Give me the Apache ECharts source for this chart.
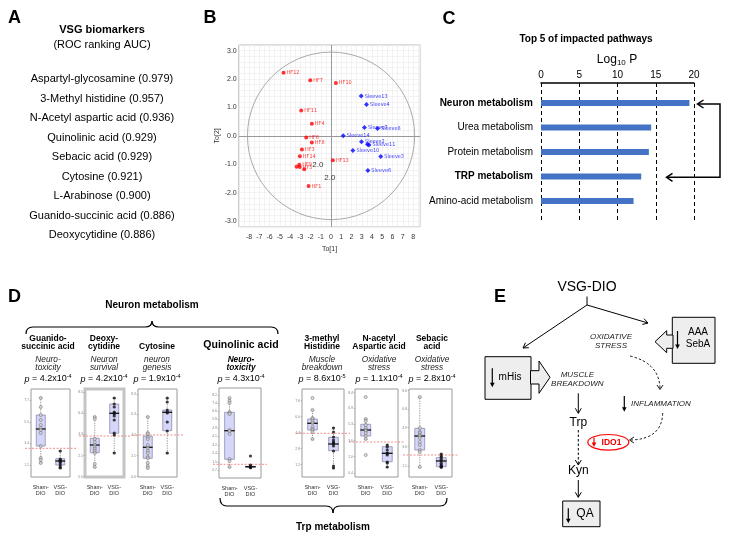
<!DOCTYPE html>
<html><head><meta charset="utf-8">
<script src="https://cdn.jsdelivr.net/npm/echarts@6/dist/echarts.min.js"></script>
<style>html,body{margin:0;padding:0;background:#fff}#c{width:734px;height:542px}</style>
</head><body><div id="c"></div>
<script>
const FONT = 'Liberation Sans, Arial, Helvetica, sans-serif';
const NARROW = 'Liberation Sans Narrow, DejaVu Sans Condensed, Liberation Sans, sans-serif';

// ---------- Panel A data ----------
const biomarkers = ['Aspartyl-glycosamine','3-Methyl histidine','N-Acetyl aspartic acid','Quinolinic acid','Sebacic acid','Cytosine','L-Arabinose','Guanido-succinic acid','Deoxycytidine'];
const biomarkerAUC = [0.979,0.957,0.936,0.929,0.929,0.921,0.900,0.886,0.886];

// ---------- Panel B data ----------
const hfNames = ['HF12','HF7','HF10','HF11','HF4','HF6','HF8','HF3','HF14','HF13','HF9','HF5','HF2','HF15','HF1'];
const hfX = [-4.63,-2.03,0.47,-2.91,-1.87,-2.42,-1.87,-2.84,-3.04,0.18,-3.10,-3.05,-3.36,-2.61,-2.19];
const hfY = [2.22,1.96,1.86,0.89,0.43,-0.06,-0.23,-0.48,-0.72,-0.86,-1.02,-1.10,-1.09,-1.18,-1.77];
const slNames = ['Sleeve13','Sleeve4','Sleeve7','Sleeve8','Sleeve14','Sleeve2','Sleeve9','Sleeve11','Sleeve10','Sleeve3','Sleeve6'];
const slX = [2.94,3.46,3.26,4.53,1.19,2.97,3.55,3.70,2.13,4.85,3.59];
const slY = [1.40,1.10,0.29,0.26,0.00,-0.21,-0.30,-0.32,-0.52,-0.73,-1.22];
const hiddenLabels = ['HF2','HF15','Sleeve9'];
const ellipseRadii = [8.15, 2.95];
const ellipseLabelX = [-1.28, -0.11];
const ellipseLabelY = [-1.03, -1.48];
const ellipseLabelText = ['2.0', '2.0'];

// ---------- Panel C data ----------
const pathways = ['Neuron metabolism','Urea metabolism','Protein metabolism','TRP metabolism','Amino-acid metabolism'];
const log10P = [19.4,14.4,14.1,13.1,12.1];
const boldPathways = ['Neuron metabolism','TRP metabolism'];

// ---------- Panel D data ----------
const groups = ['Sham-\nDIO','VSG-\nDIO'];
const metabolites = ['Guanido-\nsuccinic acid','Deoxy-\ncytidine','Cytosine','Quinolinic acid','3-methyl\nHistidine','N-acetyl\nAspartic acid','Sebacic\nacid'];
const roles = ['Neuro-\ntoxicity','Neuron\nsurvival','neuron\ngenesis','Neuro-\ntoxicity','Muscle\nbreakdown','Oxidative\nstress','Oxidative\nstress'];
const pMantissa = ['4.2','4.2','1.9','4.3','8.6','1.1','2.8'];
const pExponent = ['-4','-4','-4','-4','-5','-4','-4'];
// [min, Q1, median, Q3, max]
const shamBoxes = [
 [1.43,3.10,4.80,6.20,7.93],
 [0.97,2.43,3.20,3.87,6.03],
 [0.87,1.87,2.97,4.10,6.03],
 [0.97,1.77,4.63,6.47,7.87],
 [3.77,4.70,5.37,5.80,6.70],
 [3.77,4.10,4.70,5.27,5.80],
 [0.97,2.70,4.10,4.87,7.97]];
const vsgBoxes = [
 [0.90,1.20,1.60,1.83,2.60],
 [2.43,4.37,6.37,7.30,7.87],
 [2.37,4.63,6.47,6.70,7.87],
 [0.93,0.97,1.03,1.07,1.17],
 [0.87,2.63,3.30,3.97,4.93],
 [0.97,1.53,2.37,3.03,3.20],
 [0.97,1.03,1.60,1.93,2.30]];
const shamPoints = [
 [7.9,7.0,6.2,5.7,5.2,4.9,4.7,4.4,3.1,1.9,1.7,1.4],
 [6.0,5.8,3.8,3.5,3.2,3.0,2.8,2.6,2.4,1.3,1.0],
 [6.0,4.4,4.3,4.0,3.8,3.2,2.9,2.6,2.4,2.0,1.9,1.4,1.1,0.9],
 [7.9,7.6,7.4,6.5,6.4,6.3,4.7,4.6,4.3,1.8,1.6,1.0],
 [7.9,6.7,5.9,5.8,5.6,5.4,5.0,4.8,4.7,4.5,3.8],
 [8.0,5.8,5.6,5.2,4.9,4.7,4.6,4.4,4.1,3.8,2.2],
 [8.0,4.9,4.5,4.4,4.2,4.1,3.9,3.5,3.2,2.7,2.5,1.0]];
const vsgPoints = [
 [2.6,1.8,1.7,1.63,1.53,1.4,1.2,1.0,0.9],
 [7.9,7.3,7.0,6.5,6.4,6.3,6.1,5.7,4.4,4.2,2.4],
 [7.9,7.5,6.7,6.5,6.4,5.5,4.6,2.4],
 [2.1,1.2,1.05,1.0,0.97,0.93],
 [4.9,4.5,4.0,3.7,3.5,3.4,3.3,3.1,2.6,1.1,0.9],
 [3.2,3.0,2.7,2.4,2.37,2.2,1.5,1.4,1.0],
 [2.3,2.1,1.97,1.77,1.6,1.37,1.2,1.1,1.03,0.97]];
const refLines = [2.87,4.1,4.2,1.27,4.37,3.5,2.2];
const yTicks = [
 [1.2,3.37,5.47,7.7],
 [0.03,2.13,4.27,6.37,8.47],
 [0.03,2.13,4.2,6.27,8.27],
 [0.7,1.5,2.4,3.2,4.1,4.9,5.8,6.6,7.4,8.2],
 [1.23,2.83,4.43,6.03,7.63],
 [0.37,2.03,3.63,5.27,6.87,8.43],
 [1.1,3.03,4.93,6.77,8.63]];
const yMin = [0,0,0,-0.1,0,0,0];
const yMax = [8.8,8.8,8.8,8.9,8.8,8.8,8.8];

// ---------- layout (pixels) ----------
const dLeft = [31,85,138,219,302,355,409];
const dWidth = [39,39,39,42,42,43,43];
const dTop = [389,389,389,388,389,389,389];
const dHeight = [88,88,88,90,88,88,88];
const dHeadX = [48,104,157,241,322,379,432];

const graphics = [];
function txt(text, x, y, opt) {
  graphics.push({type:'text', silent:true, z:50, style:Object.assign({text:text, x:x, y:y, fill:'#000', textAlign:'center', textVerticalAlign:'middle', fontFamily:FONT, fontSize:10}, opt||{})});
}
function line(x1,y1,x2,y2,opt){
  graphics.push({type:'line', silent:true, z:50, shape:{x1:x1,y1:y1,x2:x2,y2:y2}, style:Object.assign({stroke:'#000', lineWidth:1}, opt||{})});
}
function qcurve(x1,y1,cx,cy,x2,y2,opt){
  graphics.push({type:'bezierCurve', silent:true, z:50, shape:{x1:x1,y1:y1,x2:x2,y2:y2,cpx1:cx,cpy1:cy}, style:Object.assign({stroke:'#000', lineWidth:1, fill:null}, opt||{})});
}
function head(x,y,dx,dy,len,w,opt){
  const L=Math.hypot(dx,dy); dx/=L; dy/=L;
  const bx=x-dx*len, by=y-dy*len;
  graphics.push({type:'polyline', silent:true, z:50, shape:{points:[[bx-dy*w,by+dx*w],[x,y],[bx+dy*w,by-dx*w]]}, style:Object.assign({stroke:'#000', lineWidth:1, fill:null}, opt||{}, {lineDash:null})});
}
function arrow(x1,y1,x2,y2,opt){ line(x1,y1,x2,y2,opt); head(x2,y2,x2-x1,y2-y1,5,3,opt); }
function downArrow(x,y1,y2,color){
  line(x,y1,x,y2-3,{stroke:color,lineWidth:1.2});
  graphics.push({type:'polygon', silent:true, z:50, shape:{points:[[x-2.3,y2-4.5],[x+2.3,y2-4.5],[x,y2]]}, style:{fill:color}});
}
function rect(x,y,w,h,opt){
  graphics.push({type:'rect', silent:true, z:45, shape:{x:x,y:y,width:w,height:h}, style:Object.assign({fill:'#eeeeee', stroke:'#000', lineWidth:1}, opt||{})});
}
function brace(xl, xm, xr, yEnd, yBar, yTip, opt){
  const r = 7;
  qcurve(xl,yEnd, xl,yBar, xl+r,yBar, opt);
  line(xl+r,yBar, xm-r,yBar, opt);
  qcurve(xm-r,yBar, xm,yBar, xm,yTip, opt);
  qcurve(xm,yTip, xm,yBar, xm+r,yBar, opt);
  line(xm+r,yBar, xr-r,yBar, opt);
  qcurve(xr-r,yBar, xr,yBar, xr,yEnd, opt);
}

// Panel letters
txt('A', 14.5, 18.5, {fontSize:18, fontWeight:'bold'});
txt('B', 210, 18, {fontSize:18, fontWeight:'bold'});
txt('C', 449, 19.5, {fontSize:18, fontWeight:'bold'});
txt('D', 14.5, 297.5, {fontSize:18, fontWeight:'bold'});
txt('E', 500, 297.5, {fontSize:18, fontWeight:'bold'});

// Panel A
txt('VSG biomarkers', 102, 30, {fontSize:11, fontWeight:'bold'});
txt('(ROC ranking AUC)', 102, 44.5, {fontSize:11});
biomarkers.forEach((b,i)=> txt(b + ' (' + biomarkerAUC[i].toFixed(3) + ')', 102, 79 + i*19.5, {fontSize:11}));

// Panel C texts
txt('Top 5 of impacted pathways', 586, 39.5, {fontSize:10, fontWeight:'bold'});
txt('{a|Log}{s|10}{a| P}', 617, 60, {rich:{a:{fontSize:12, fontFamily:FONT, lineHeight:14}, s:{fontSize:8, fontFamily:FONT, lineHeight:8, verticalAlign:'bottom'}}});
graphics.push({type:'polyline', silent:true, z:50, shape:{points:[[698,104],[720,104],[720,177.3],[667,177.3]]}, style:{stroke:'#000', lineWidth:1.5, fill:null}});
head(697.5,104,-1,0,6,4,{lineWidth:1.5});
head(666.5,177.3,-1,0,6,4,{lineWidth:1.5});

// Panel D texts
txt('Neuron metabolism', 152, 305, {fontSize:10, fontWeight:'bold'});
brace(26,152,278,334,327,321,{lineWidth:1.2});
txt('Trp metabolism', 333, 527, {fontSize:10, fontWeight:'bold'});
brace(220,333,447,498,506,513,{lineWidth:1.2});
metabolites.forEach((m,k)=>{
  if (k === 3) {
    txt(m, dHeadX[k], 345, {fontSize:10.5, fontWeight:'bold'});
    txt(roles[k], dHeadX[k], 363.5, {fontSize:8.3, fontStyle:'italic', fontWeight:'bold', lineHeight:7.5});
  } else {
    txt(m, dHeadX[k], 351, {fontSize:8.5, fontWeight:'bold', lineHeight:8.5, textVerticalAlign:'bottom'});
    txt(roles[k], dHeadX[k], 363.5, {fontSize:8.3, fontStyle:'italic', lineHeight:7.5, fill:'#222'});
  }
  txt('{i|p}{n| = ' + pMantissa[k] + 'x10}{s|' + pExponent[k] + '}', dHeadX[k], 379, {rich:{
    i:{fontSize:9, fontStyle:'italic', fontFamily:FONT, lineHeight:11},
    n:{fontSize:9, fontFamily:FONT, lineHeight:11},
    s:{fontSize:5.5, fontFamily:FONT, lineHeight:6, verticalAlign:'top'}}});
});

// Panel E
txt('VSG-DIO', 587, 287, {fontSize:14});
line(587,296.5,587,305);
arrow(587,305,523,348);
arrow(587,305,648,323);
rect(672.3,317.3,42.7,46);
graphics.push({type:'polygon', silent:true, z:46, shape:{points:[[673,335],[666.7,335],[666.7,330.7],[655,341.7],[666.7,352.7],[666.7,348.3],[673,348.3]]}, style:{fill:'#eeeeee', stroke:'#000', lineWidth:1}});
downArrow(677.5,331,349,'#000');
txt('AAA', 698, 332.7, {fontSize:10});
txt('SebA', 698, 344.3, {fontSize:10});
txt('OXIDATIVE\nSTRESS', 611, 341.7, {fontSize:8, fontStyle:'italic', lineHeight:9, fill:'#222'});
qcurve(630,356, 659,363, 660,388, {lineWidth:0.9, lineDash:[2.5,2]});
head(660,389.5,0,1,4.5,3,{lineWidth:0.9});
rect(485,356.7,46,42.6);
graphics.push({type:'polygon', silent:true, z:46, shape:{points:[[530.5,370.7],[539,370.7],[539,361],[550,377.3],[539,393.3],[539,384],[530.5,384]]}, style:{fill:'#eeeeee', stroke:'#000', lineWidth:1}});
downArrow(492.3,368.3,387.3,'#000');
txt('mHis', 510, 377.7, {fontSize:10});
txt('MUSCLE\nBREAKDOWN', 577.3, 379.6, {fontSize:8, fontStyle:'italic', lineHeight:9.3, fill:'#222'});
arrow(578.3,393.3,578.3,413.3);
txt('Trp', 578.3, 422.7, {fontSize:12});
downArrow(624.3,396,411.7,'#000');
txt('INFLAMMATION', 631, 403.3, {fontSize:8, fontStyle:'italic', textAlign:'left', fill:'#222'});
qcurve(662.7,413, 662,439, 631,440, {lineWidth:0.9, lineDash:[2.5,2]});
head(629.5,440,-1,0,4.5,3,{lineWidth:0.9});
graphics.push({type:'ellipse', silent:true, z:46, shape:{cx:608.3, cy:442.3, rx:20.5, ry:7.8}, style:{fill:'#fff', stroke:'#ff0000', lineWidth:1.2}});
downArrow(594,437.5,447,'#ee0000');
txt('IDO1', 611.5, 442.8, {fontSize:8.5, fontWeight:'bold', fill:'#ee0000'});
line(578.3,430,578.3,464,{lineDash:[2.5,2]});
head(578.3,465,0,1,5,3);
txt('Kyn', 578.3, 471, {fontSize:12});
arrow(578.3,480,578.3,497.3);
rect(562.7,501,37.3,25.7);
downArrow(568.3,508.3,523.3,'#000');
txt('QA', 585, 514, {fontSize:12});

// ---------- option ----------
const grids = [], xAxes = [], yAxes = [], series = [];

// Panel B
grids.push({left:238.75, top:45, width:181.5, height:181.7, show:true, borderColor:'#bbb', borderWidth:1, containLabel:false});
xAxes.push({gridIndex:0, type:'value', min:-9, max:8.7, interval:0.5,
  axisLine:{show:false}, axisTick:{show:false},
  axisLabel:{fontSize:7, color:'#333', fontFamily:FONT, margin:7, formatter:v=>{const r=Math.round(v); return (Math.abs(v-r)<1e-6 && r>=-8) ? String(r===0?0:r) : '';}},
  splitLine:{show:true, lineStyle:{color:'#ebebeb', width:0.6}},
  name:'To[1]', nameLocation:'middle', nameGap:19, nameTextStyle:{fontSize:7, color:'#333', fontFamily:FONT}});
yAxes.push({gridIndex:0, type:'value', min:-3.2, max:3.2, interval:0.2,
  axisLine:{show:false}, axisTick:{show:false},
  axisLabel:{fontSize:7, color:'#333', fontFamily:FONT, margin:2, formatter:v=>{const r=Math.round(v); return Math.abs(v-r)<1e-6 ? (r===0?0:r).toFixed(1) : '';}},
  splitLine:{show:true, lineStyle:{color:'#ebebeb', width:0.6}},
  name:'To[2]', nameLocation:'middle', nameGap:18, nameRotate:90, nameTextStyle:{fontSize:7, color:'#333', fontFamily:FONT}});
series.push({type:'custom', xAxisIndex:0, yAxisIndex:0, silent:true, z:2,
  data:[[0,0,ellipseRadii[0],ellipseRadii[1]]],
  renderItem:(p,api)=>{
    const c=api.coord([api.value(0),api.value(1)]);
    const ex=api.coord([api.value(0)+api.value(2),api.value(1)]);
    const ey=api.coord([api.value(0),api.value(1)+api.value(3)]);
    return {type:'ellipse', shape:{cx:c[0],cy:c[1],rx:Math.abs(ex[0]-c[0]),ry:Math.abs(c[1]-ey[1])}, style:{fill:'none', stroke:'#aaa', lineWidth:1}};
  }});
function ptData(names, xs, ys){
  return names.map((n,i)=>{
    const d = {name:n, value:[xs[i], ys[i]]};
    if (hiddenLabels.indexOf(n) >= 0) d.label = {show:false};
    return d;
  });
}
series.push({type:'scatter', xAxisIndex:0, yAxisIndex:0, symbol:'circle', symbolSize:4, z:5,
  itemStyle:{color:'#ff0000'}, data:ptData(hfNames,hfX,hfY),
  label:{show:true, position:'right', distance:1, formatter:'{b}', fontSize:5.5, color:'#ff0000', fontFamily:NARROW},
  labelLayout:{hideOverlap:false},
  markLine:{silent:true, symbol:['none','none'], label:{show:false}, lineStyle:{color:'#999', type:'solid', width:1}, data:[{xAxis:0},{yAxis:0}]}});
series.push({type:'scatter', xAxisIndex:0, yAxisIndex:0, symbol:'diamond', symbolSize:5, z:5,
  itemStyle:{color:'#0000ff'}, data:ptData(slNames,slX,slY),
  label:{show:true, position:'right', distance:1, formatter:'{b}', fontSize:5.5, color:'#0000ff', fontFamily:NARROW}});
series.push({type:'scatter', xAxisIndex:0, yAxisIndex:0, symbolSize:0, z:6,
  data:ellipseLabelX.map((x,i)=>({name:ellipseLabelText[i], value:[x, ellipseLabelY[i]]})),
  label:{show:true, position:'inside', formatter:'{b}', fontSize:8, color:'#000', fontFamily:FONT}});

// Panel C
grids.push({left:541, top:90.75, width:153, height:122.5});
grids.push({left:541, top:83, width:153, height:139});
xAxes.push({gridIndex:1, type:'value', min:0, max:20, show:false});
yAxes.push({gridIndex:1, type:'category', data:pathways, inverse:true,
  axisLine:{show:false}, axisTick:{show:false}, splitLine:{show:false},
  axisLabel:{margin:8, fontSize:10, color:'#000', fontFamily:FONT,
    formatter:v=> boldPathways.indexOf(v)>=0 ? '{b|'+v+'}' : v,
    rich:{b:{fontWeight:'bold', fontSize:10, fontFamily:FONT, color:'#000'}}}});
xAxes.push({gridIndex:2, type:'value', min:0, max:20, interval:5, position:'top',
  axisLine:{show:true, onZero:false, lineStyle:{color:'#000', width:1.5}}, axisTick:{show:false},
  axisLabel:{fontSize:10, color:'#000', fontFamily:FONT, margin:3},
  splitLine:{show:true, showMinLine:true, showMaxLine:true, lineStyle:{color:'#000', width:1, type:[4,3]}}});
yAxes.push({gridIndex:2, type:'value', min:0, max:1, show:false});
series.push({type:'bar', xAxisIndex:1, yAxisIndex:1, data:log10P, barWidth:6, itemStyle:{color:'#4472c4'}, silent:true, z:5});

// Panel D
function renderBox(p, api){
  const x = api.value(0);
  const lo = api.coord([x, api.value(1)]);
  const q1 = api.coord([x, api.value(2)]);
  const md = api.coord([x, api.value(3)]);
  const q3 = api.coord([x, api.value(4)]);
  const hi = api.coord([x, api.value(5)]);
  const bw = api.size([1,0])[0]*0.46, half = bw/2, cx = lo[0];
  const dot = {stroke:'#666', lineWidth:0.7, lineDash:[1.2,1.2]};
  const cap = {stroke:'#666', lineWidth:0.7};
  return {type:'group', children:[
    {type:'line', shape:{x1:cx,y1:q3[1],x2:cx,y2:hi[1]}, style:dot},
    {type:'line', shape:{x1:cx,y1:q1[1],x2:cx,y2:lo[1]}, style:dot},
    {type:'line', shape:{x1:cx-1.5,y1:hi[1],x2:cx+1.5,y2:hi[1]}, style:cap},
    {type:'line', shape:{x1:cx-1.5,y1:lo[1],x2:cx+1.5,y2:lo[1]}, style:cap},
    {type:'rect', shape:{x:cx-half,y:q3[1],width:bw,height:Math.max(q1[1]-q3[1],0.8)}, style:{fill:'#d6d6f8', stroke:'#8c8cb4', lineWidth:0.8}},
    {type:'line', shape:{x1:cx-half-0.4,y1:md[1],x2:cx+half+0.4,y2:md[1]}, style:{stroke:'#111', lineWidth:1.3}}
  ]};
}
function renderRef(p, api){
  const cs = p.coordSys;
  const y = api.coord([0, api.value(1)])[1];
  return {type:'line', shape:{x1:cs.x-6, y1:y, x2:cs.x+cs.width+6, y2:y}, style:{stroke:'#f07070', lineWidth:0.8, lineDash:[2,1.5]}};
}
for (let k=0;k<7;k++){
  const gi = 3+k;
  grids.push({left:dLeft[k], top:dTop[k], width:dWidth[k], height:dHeight[k], show:true,
    borderColor: k===1 ? '#c4c4c4' : '#9a9a9a', borderWidth: k===1 ? 3 : 1});
  xAxes.push({gridIndex:gi, type:'category', data:groups, boundaryGap:true,
    axisLine:{show:false}, axisTick:{show:false}, splitLine:{show:false},
    axisLabel:{interval:0, fontSize:5.5, lineHeight:6.5, color:'#333', fontFamily:FONT, margin:7}});
  yAxes.push({gridIndex:gi, type:'value', min:yMin[k], max:yMax[k],
    axisLine:{show:false}, splitLine:{show:false},
    axisTick:{show:true, customValues:yTicks[k], length:1.5, lineStyle:{color:'#888', width:0.5}},
    axisLabel:{show:true, customValues:yTicks[k], fontSize:3.5, color:'#888', margin:2, fontFamily:FONT, formatter:v=>v.toFixed(1)}});
  series.push({type:'custom', xAxisIndex:gi, yAxisIndex:gi, silent:true, z:2, clip:false,
    encode:{x:0, y:1}, renderItem:renderRef, data:[[0, refLines[k]]]});
  series.push({type:'custom', xAxisIndex:gi, yAxisIndex:gi, silent:true, z:3,
    encode:{x:0, y:[1,2,3,4,5]}, renderItem:renderBox,
    data:[[0].concat(shamBoxes[k]), [1].concat(vsgBoxes[k])]});
  series.push({type:'scatter', xAxisIndex:gi, yAxisIndex:gi, silent:true, z:6, symbol:'circle', symbolSize:3.2,
    itemStyle:{color:'#cfcfcf', borderColor:'#555', borderWidth:0.5},
    data:shamPoints[k].map(v=>[0,v])});
  series.push({type:'scatter', xAxisIndex:gi, yAxisIndex:gi, silent:true, z:6, symbol:'circle', symbolSize:3.2,
    itemStyle:{color:'#111'}, data:vsgPoints[k].map(v=>[1,v])});
}

const chart = echarts.init(document.getElementById('c'), null, {renderer:'canvas'});
chart.setOption({
  backgroundColor:'#fff', animation:false,
  textStyle:{fontFamily:FONT},
  grid:grids, xAxis:xAxes, yAxis:yAxes, series:series, graphic:graphics
});
</script></body></html>
